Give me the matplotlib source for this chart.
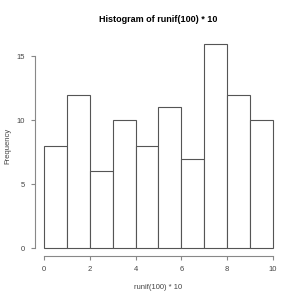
import numpy as np
import matplotlib.pyplot as plt

# histogram bins and counts
bin_edges = [0, 1, 2, 3, 4, 5, 6, 7, 8, 9, 10]
counts = [8, 12, 6, 10, 8, 11, 7, 16, 12, 10]
x_ticks = [0, 2, 4, 6, 8, 10]
y_ticks = [0, 5, 10, 15]

plt.rcParams['font.family'] = ['Liberation Sans', 'DejaVu Sans']

fig = plt.figure(figsize=(3, 3), dpi=100)
ax = fig.add_axes([0.116, 0.146, 0.824, 0.736])

lefts = np.array(bin_edges[:-1])
widths = np.diff(bin_edges)
ax.bar(lefts, counts, width=widths, align='edge', facecolor='white',
       edgecolor='#555555', linewidth=0.8)

ax.set_xlim(-0.4, 10.4)
ax.set_ylim(-0.64, 16.64)

for side in ['top', 'right']:
    ax.spines[side].set_visible(False)
ax.spines['left'].set_bounds(0, 15)
ax.spines['bottom'].set_bounds(0, 10)
for side in ['left', 'bottom']:
    ax.spines[side].set_color('#888888')
    ax.spines[side].set_linewidth(0.8)

ax.set_xticks(x_ticks)
ax.set_yticks(y_ticks)
ax.tick_params(axis='both', labelsize=5.5, colors='#888888', labelcolor='#444444',
               length=3, width=0.8, pad=4)

ax.set_title('Histogram of runif(100) * 10', fontsize=6.5, fontweight='bold', pad=10)
ax.set_xlabel('runif(100) * 10', fontsize=5.5, color='#444444', labelpad=8)
ax.set_ylabel('Frequency', fontsize=5.5, color='#444444', labelpad=4)

fig.savefig('out.png', dpi=100, facecolor='white')
